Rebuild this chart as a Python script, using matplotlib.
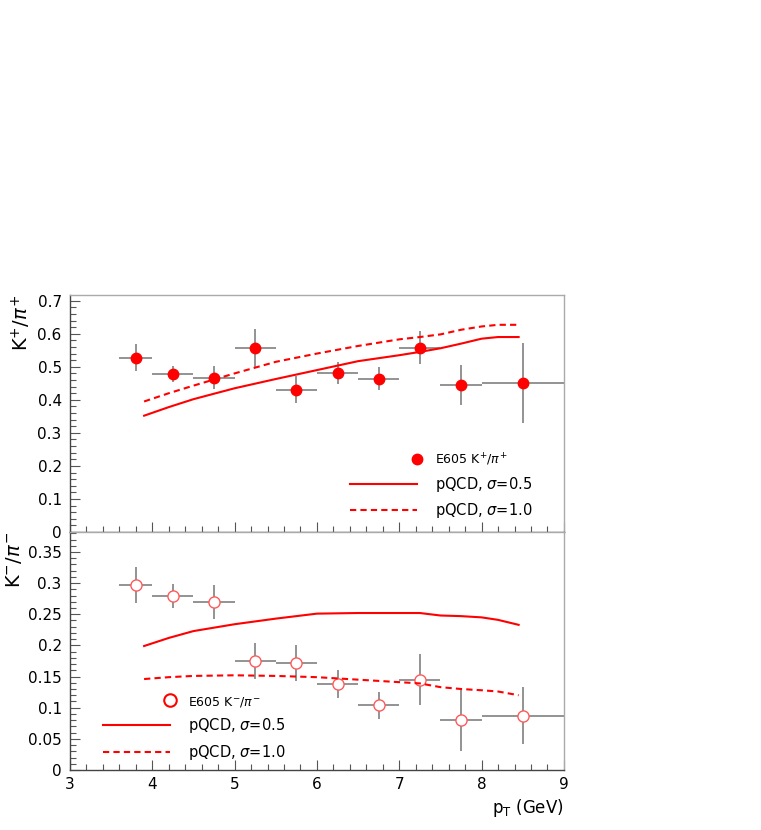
import numpy as np
import matplotlib
matplotlib.use('Agg')
import matplotlib.pyplot as plt
from matplotlib.lines import Line2D
from matplotlib.legend_handler import HandlerBase
from matplotlib.ticker import MultipleLocator, FuncFormatter

# data points (E605)
pt = [3.8, 4.25, 4.75, 5.25, 5.75, 6.25, 6.75, 7.25, 7.75, 8.5]
pt_lo = [0.2, 0.25, 0.25, 0.25, 0.25, 0.25, 0.25, 0.25, 0.25, 0.5]
pt_hi = [0.2, 0.25, 0.25, 0.25, 0.25, 0.25, 0.25, 0.25, 0.25, 0.5]

kp_ratio = [0.528, 0.478, 0.467, 0.556, 0.431, 0.481, 0.464, 0.558, 0.444, 0.451]
kp_err = [0.040, 0.024, 0.034, 0.057, 0.042, 0.034, 0.034, 0.050, 0.060, 0.120]

km_ratio = [0.297, 0.279, 0.270, 0.175, 0.172, 0.138, 0.104, 0.145, 0.081, 0.087]
km_err = [0.029, 0.019, 0.027, 0.029, 0.029, 0.023, 0.022, 0.041, 0.050, 0.046]

# pQCD curves
curve_pt = [3.9, 4.2, 4.5, 5.0, 5.5, 6.0, 6.5, 7.0, 7.25, 7.5, 7.75, 8.0, 8.2, 8.45]
kp_s05 = [0.352, 0.378, 0.402, 0.435, 0.463, 0.490, 0.517, 0.535, 0.545, 0.556, 0.570, 0.585, 0.590, 0.590]
kp_s10 = [0.395, 0.420, 0.443, 0.480, 0.515, 0.540, 0.563, 0.583, 0.590, 0.598, 0.612, 0.622, 0.627, 0.627]
km_s05 = [0.199, 0.212, 0.223, 0.234, 0.243, 0.251, 0.252, 0.252, 0.252, 0.248, 0.247, 0.245, 0.241, 0.233]
km_s10 = [0.146, 0.149, 0.151, 0.152, 0.151, 0.149, 0.145, 0.141, 0.139, 0.133, 0.130, 0.128, 0.126, 0.120]

plt.rcParams['font.family'] = 'DejaVu Sans'
plt.rcParams['mathtext.fontset'] = 'dejavusans'

RED = '#ff0000'
GREY = '#8a8a8a'


class RightMarker(HandlerBase):
    # legend marker sits at the right end of the sample, like ROOT
    def create_artists(self, legend, orig_handle, xdescent, ydescent,
                       width, height, fontsize, trans):
        m = Line2D([width - xdescent], [0.5 * height - ydescent])
        m.update_from(orig_handle)
        m.set_transform(trans)
        return [m]


def style_axes(ax, ymax, ymajor, yminor):
    ax.set_xlim(3, 9)
    ax.set_ylim(0, ymax)
    ax.xaxis.set_major_locator(MultipleLocator(1))
    ax.xaxis.set_minor_locator(MultipleLocator(0.2))
    ax.yaxis.set_major_locator(MultipleLocator(ymajor))
    ax.yaxis.set_minor_locator(MultipleLocator(yminor))
    ax.yaxis.set_major_formatter(FuncFormatter(lambda v, p: f'{v:g}'))
    ax.tick_params(which='both', direction='in', top=False, right=False,
                   labelsize=11, width=0.8, color='#555555')
    ax.tick_params(which='major', length=7)
    ax.tick_params(which='minor', length=4)
    ax.tick_params(axis='y', pad=6)
    ax.tick_params(axis='x', pad=5)
    for s in ['left', 'bottom']:
        ax.spines[s].set_color('#444444')
        ax.spines[s].set_linewidth(1.0)
    for s in ['top', 'right']:
        ax.spines[s].set_color('#aaaaaa')
        ax.spines[s].set_linewidth(1.0)


fig = plt.figure(figsize=(7.61, 8.30), dpi=100)
ax1 = fig.add_axes([0.092, 0.359, 0.649, 0.2859])
ax2 = fig.add_axes([0.092, 0.0723, 0.649, 0.2867])

xerr = [pt_lo, pt_hi]

# top panel: K+/pi+
ax1.errorbar(pt, kp_ratio, xerr=xerr, yerr=kp_err, fmt='none',
             ecolor=GREY, elinewidth=1.3, zorder=2)
ax1.plot(pt, kp_ratio, 'o', color=RED, markersize=7.5, zorder=3)
ax1.plot(curve_pt, kp_s05, '-', color=RED, lw=1.5, zorder=4)
ax1.plot(curve_pt, kp_s10, '--', color=RED, lw=1.5, dashes=(3, 2), zorder=4)
style_axes(ax1, 0.718, 0.1, 0.02)
ax1.tick_params(axis='x', labelbottom=False)
ax1.set_ylabel(r'K$^{+}$/$\pi^{+}$', fontsize=14, loc='top', labelpad=3)

h1 = [Line2D([], [], ls='none', marker='o', color=RED, markersize=7.5),
      Line2D([], [], ls='-', color=RED, lw=1.5),
      Line2D([], [], ls='--', color=RED, lw=1.5, dashes=(3, 2))]
leg1 = ax1.legend(h1, [r'E605 K$^{+}$/$\pi^{+}$', r'pQCD, $\sigma$=0.5', r'pQCD, $\sigma$=1.0'],
                  loc='upper left', bbox_to_anchor=(0.567, 0.34), frameon=False,
                  borderpad=0, borderaxespad=0, handlelength=4.6, handletextpad=1.2,
                  labelspacing=0.5, fontsize=10.5, numpoints=1,
                  handler_map={h1[0]: RightMarker()})
leg1.get_texts()[0].set_fontsize(9)

# bottom panel: K-/pi-
ax2.errorbar(pt, km_ratio, xerr=xerr, yerr=km_err, fmt='none',
             ecolor=GREY, elinewidth=1.3, zorder=2)
ax2.plot(pt, km_ratio, 'o', mfc='white', mec='#ff5a5a', mew=1.0, markersize=8, zorder=3)
ax2.plot(curve_pt, km_s05, '-', color=RED, lw=1.5, zorder=4)
ax2.plot(curve_pt, km_s10, '--', color=RED, lw=1.5, dashes=(3, 2), zorder=4)
style_axes(ax2, 0.382, 0.05, 0.01)
ax2.set_ylabel(r'K$^{-}$/$\pi^{-}$', fontsize=14, loc='top', labelpad=3)
ax2.set_xlabel(r'p$_{\mathrm{T}}$ (GeV)', fontsize=12, loc='right', labelpad=4)

h2 = [Line2D([], [], ls='none', marker='o', mfc='white', mec=RED, mew=1.5, markersize=9),
      Line2D([], [], ls='-', color=RED, lw=1.5),
      Line2D([], [], ls='--', color=RED, lw=1.5, dashes=(3, 2))]
leg2 = ax2.legend(h2, [r'E605 K$^{-}$/$\pi^{-}$', r'pQCD, $\sigma$=0.5', r'pQCD, $\sigma$=1.0'],
                  loc='upper left', bbox_to_anchor=(0.067, 0.315), frameon=False,
                  borderpad=0, borderaxespad=0, handlelength=4.6, handletextpad=1.2,
                  labelspacing=0.5, fontsize=10.5, numpoints=1,
                  handler_map={h2[0]: RightMarker()})
leg2.get_texts()[0].set_fontsize(9)

plt.savefig('out.png', dpi=100)
plt.close()
